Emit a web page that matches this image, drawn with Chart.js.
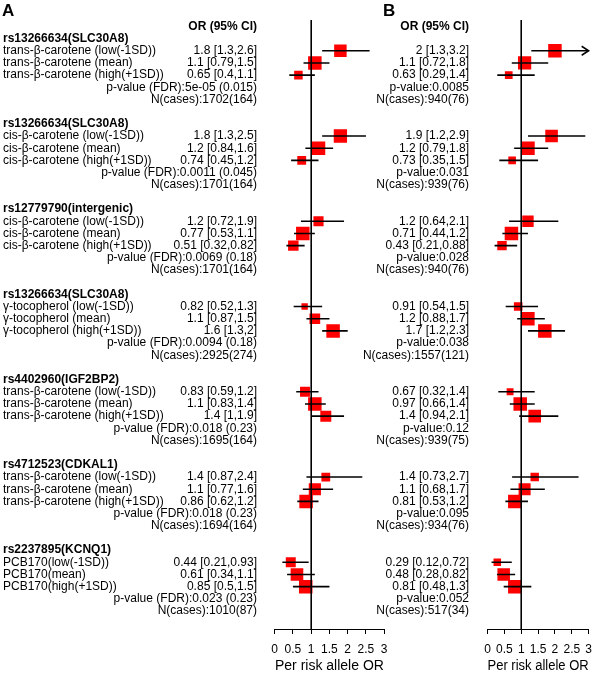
<!DOCTYPE html>
<html>
<head>
<meta charset="utf-8">
<script src="https://cdn.jsdelivr.net/npm/chart.js@4.4.1/dist/chart.umd.min.js"></script>
<style>
  html, body { margin: 0; padding: 0; background: #fff; }
  #wrap { position: relative; width: 600px; height: 673px; }
  #wrap canvas { position: absolute; left: 0; top: 0; }
</style>
</head>
<body>
<div id="wrap">
  <canvas id="chartA" width="600" height="673"></canvas>
  <canvas id="chartB" width="600" height="673"></canvas>
</div>
<script>
// ---- data ----
const snpTitles = [
  "rs13266634(SLC30A8)", "rs13266634(SLC30A8)", "rs12779790(intergenic)",
  "rs13266634(SLC30A8)", "rs4402960(IGF2BP2)", "rs4712523(CDKAL1)", "rs2237895(KCNQ1)"
];
const exposureLabels = [
  "trans-β-carotene (low(-1SD))", "trans-β-carotene (mean)", "trans-β-carotene (high(+1SD))",
  "cis-β-carotene (low(-1SD))", "cis-β-carotene (mean)", "cis-β-carotene (high(+1SD))",
  "cis-β-carotene (low(-1SD))", "cis-β-carotene (mean)", "cis-β-carotene (high(+1SD))",
  "γ-tocopherol (low(-1SD))", "γ-tocopherol (mean)", "γ-tocopherol (high(+1SD))",
  "trans-β-carotene (low(-1SD))", "trans-β-carotene (mean)", "trans-β-carotene (high(+1SD))",
  "trans-β-carotene (low(-1SD))", "trans-β-carotene (mean)", "trans-β-carotene (high(+1SD))",
  "PCB170(low(-1SD))", "PCB170(mean)", "PCB170(high(+1SD))"
];

// panel A
const orA = [1.8, 1.1, 0.65, 1.8, 1.2, 0.74, 1.2, 0.77, 0.51, 0.82, 1.1, 1.6, 0.83, 1.1, 1.4, 1.4, 1.1, 0.86, 0.44, 0.61, 0.85];
const loA = [1.3, 0.79, 0.4, 1.3, 0.84, 0.45, 0.72, 0.53, 0.32, 0.52, 0.87, 1.3, 0.59, 0.83, 1, 0.87, 0.77, 0.62, 0.21, 0.34, 0.5];
const hiA = [2.6, 1.5, 1.1, 2.5, 1.6, 1.2, 1.9, 1.1, 0.82, 1.3, 1.5, 2, 1.2, 1.4, 1.9, 2.4, 1.6, 1.2, 0.93, 1.1, 1.5];
const pValueA = ["5e-05 (0.015)", "0.0011 (0.045)", "0.0069 (0.18)", "0.0094 (0.18)", "0.018 (0.23)", "0.018 (0.23)", "0.023 (0.23)"];
const nCasesA = ["1702(164)", "1701(164)", "1701(164)", "2925(274)", "1695(164)", "1694(164)", "1010(87)"];

// panel B
const orB = [2, 1.1, 0.63, 1.9, 1.2, 0.73, 1.2, 0.71, 0.43, 0.91, 1.2, 1.7, 0.67, 0.97, 1.4, 1.4, 1.1, 0.81, 0.29, 0.48, 0.81];
const loB = [1.3, 0.72, 0.29, 1.2, 0.79, 0.35, 0.64, 0.44, 0.21, 0.54, 0.88, 1.2, 0.32, 0.66, 0.94, 0.73, 0.68, 0.53, 0.12, 0.28, 0.48];
const hiB = [3.2, 1.8, 1.4, 2.9, 1.8, 1.5, 2.1, 1.2, 0.88, 1.5, 1.7, 2.3, 1.4, 1.4, 2.1, 2.7, 1.7, 1.2, 0.72, 0.82, 1.3];
const pValueB = ["0.0085", "0.031", "0.028", "0.038", "0.12", "0.095", "0.052"];
const nCasesB = ["940(76)", "939(76)", "940(76)", "1557(121)", "939(75)", "934(76)", "517(34)"];

const xTicks = [0, 0.5, 1, 1.5, 2, 2.5, 3];

// ---- layout helpers ----
const FONT = "'Liberation Sans', Arial, Helvetica, sans-serif";
Chart.defaults.font.family = FONT;
Chart.defaults.color = "#000";

const ROWS_PER_GROUP = 7;
const Y_MIN = -0.525, Y_MAX = 49.475;
const rowOf = (i) => 2 + ROWS_PER_GROUP * Math.floor(i / 3) + (i % 3);

// box side ~ 1/(log CI width), scaled within each group
function boxRadii(lo, hi) {
  const inv = lo.map((l, i) => 1 / (Math.log(hi[i]) - Math.log(l)));
  return inv.map((v, i) => {
    const g = Math.floor(i / 3);
    const mx = Math.max(inv[g * 3], inv[g * 3 + 1], inv[g * 3 + 2]);
    return (13.5 * v / mx) / Math.SQRT2;
  });
}

function makePanel(id, p) {
  const textPlugin = {
    id: "forestText" + id,
    afterDatasetsDraw(chart) {
      const ctx = chart.ctx;
      const ys = chart.scales.y, xs = chart.scales.x;
      ctx.save();
      ctx.fillStyle = "#000";
      ctx.textBaseline = "middle";

      // panel letter
      ctx.font = "bold 17px " + FONT;
      ctx.textAlign = "left";
      ctx.fillText(p.letter, p.letterX, 11);

      // header
      ctx.font = "bold 12px " + FONT;
      ctx.textAlign = "right";
      ctx.fillText("OR (95% CI)", p.valueRight, ys.getPixelForValue(0));

      snpTitles.forEach((t, g) => {
        const base = ROWS_PER_GROUP * g;
        if (p.showLabels) {
          ctx.font = "bold 12px " + FONT;
          ctx.textAlign = "left";
          ctx.fillText(t, 3, ys.getPixelForValue(base + 1));
        }
        ctx.font = "12px " + FONT;
        for (let k = 0; k < 3; k++) {
          const i = g * 3 + k;
          const y = ys.getPixelForValue(base + 2 + k);
          if (p.showLabels) {
            ctx.textAlign = "left";
            ctx.fillText(exposureLabels[i], 3, y);
          }
          ctx.textAlign = "right";
          ctx.fillText(p.or[i] + " [" + p.lo[i] + "," + p.hi[i] + "]", p.valueRight, y);
        }
        ctx.textAlign = "right";
        ctx.fillText(p.pPrefix + p.pValues[g], p.valueRight, ys.getPixelForValue(base + 5));
        ctx.fillText("N(cases):" + p.nCases[g], p.valueRight, ys.getPixelForValue(base + 6));
      });

      // arrow heads for intervals running past the axis
      ctx.strokeStyle = "#000";
      ctx.lineWidth = 1.5;
      p.hi.forEach((h, i) => {
        if (h <= xs.max) return;
        const x = xs.getPixelForValue(xs.max);
        const y = ys.getPixelForValue(rowOf(i));
        ctx.beginPath();
        ctx.moveTo(x - 7, y - 4.5);
        ctx.lineTo(x, y);
        ctx.lineTo(x - 7, y + 4.5);
        ctx.stroke();
      });
      ctx.restore();
    }
  };

  const radii = boxRadii(p.lo, p.hi);
  const datasets = [{
    data: p.or.map((v, i) => ({ x: v, y: rowOf(i) })),
    pointStyle: "rect",
    pointRadius: radii,
    pointHoverRadius: radii,
    backgroundColor: "#ff0000",
    borderWidth: 0,
    pointBorderWidth: 0,
    showLine: false,
    order: 3
  }];
  p.lo.forEach((l, i) => {
    datasets.push({
      data: [{ x: l, y: rowOf(i) }, { x: p.hi[i], y: rowOf(i) }],
      showLine: true,
      borderColor: "#000",
      borderWidth: 1.6,
      pointRadius: 0,
      pointHoverRadius: 0,
      order: 2
    });
  });
  datasets.push({
    data: [{ x: 1, y: Y_MIN }, { x: 1, y: Y_MAX }],
    showLine: true,
    borderColor: "#000",
    borderWidth: 1.6,
    pointRadius: 0,
    pointHoverRadius: 0,
    order: 1
  });

  return new Chart(document.getElementById(id), {
    type: "scatter",
    data: { datasets },
    options: {
      responsive: false,
      animation: false,
      events: [],
      layout: { padding: { left: p.padLeft, right: p.padRight, top: 20, bottom: 0 } },
      plugins: { legend: { display: false }, tooltip: { enabled: false } },
      scales: {
        x: {
          type: "linear",
          position: "bottom",
          min: 0,
          max: 3,
          afterFit: (s) => { s.height = 44; },
          afterBuildTicks: (s) => { s.ticks = xTicks.map((v) => ({ value: v })); },
          ticks: {
            color: "#000",
            font: { size: 12 },
            padding: 8,
            autoSkip: false,
            maxRotation: 0,
            callback: (v) => String(v)
          },
          grid: { display: true, drawOnChartArea: false, drawTicks: true, tickLength: 5, tickColor: "#000", tickWidth: 1 },
          border: { display: true, color: "#000", width: 1 },
          title: {
            display: true,
            text: "Per risk allele OR",
            color: "#000",
            font: { size: 14, lineHeight: 1 },
            padding: { top: 0, bottom: 0 }
          }
        },
        y: { type: "linear", min: Y_MIN, max: Y_MAX, reverse: true, display: false }
      }
    },
    plugins: [textPlugin]
  });
}

makePanel("chartA", {
  letter: "A", letterX: 2, showLabels: true, valueRight: 257,
  or: orA, lo: loA, hi: hiA, pValues: pValueA, nCases: nCasesA, pPrefix: "p-value (FDR):",
  padLeft: 274.7, padRight: 600 - 384.2
});
makePanel("chartB", {
  letter: "B", letterX: 383, showLabels: false, valueRight: 469,
  or: orB, lo: loB, hi: hiB, pValues: pValueB, nCases: nCasesB, pPrefix: "p-value:",
  padLeft: 487.5, padRight: 3.5
});
</script>
</body>
</html>
